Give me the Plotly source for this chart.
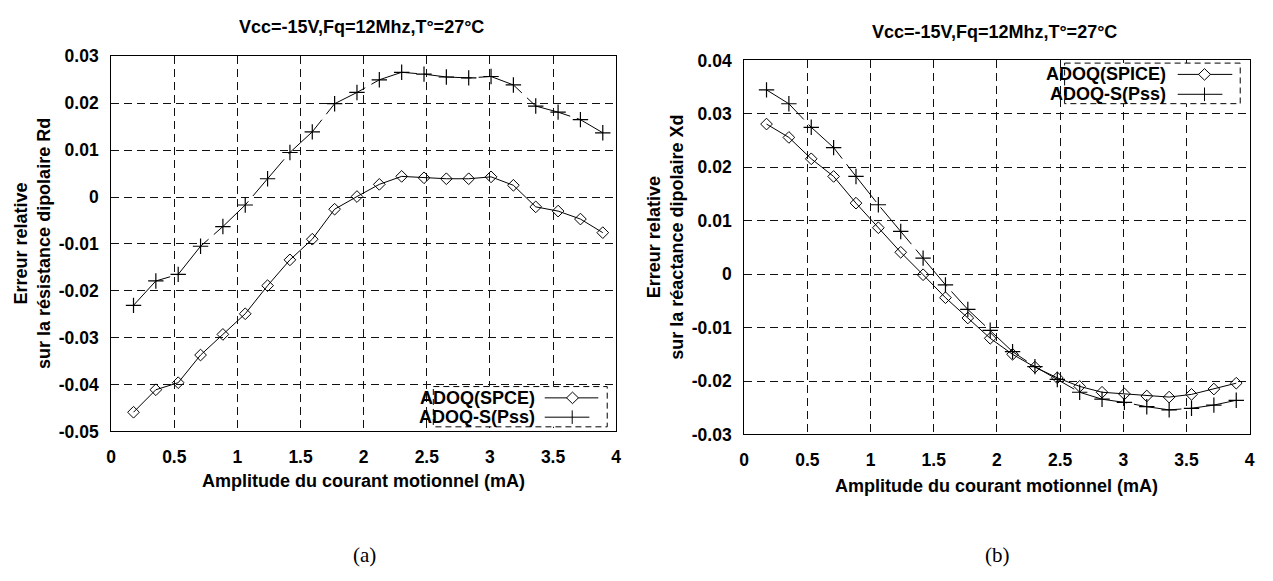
import plotly.graph_objects as go

W, H = 1273, 581

# Amplitude du courant motionnel (mA)
courant = [0.177, 0.354, 0.531, 0.708, 0.885, 1.062, 1.239, 1.416, 1.593, 1.77, 1.947,
           2.124, 2.301, 2.478, 2.655, 2.832, 3.009, 3.186, 3.363, 3.54, 3.717, 3.894]

# (a) erreur relative sur Rd
rd_spice = [-0.0459, -0.0411, -0.0396, -0.0337, -0.0293, -0.0249, -0.0189, -0.0134, -0.0090,
            -0.0026, 0.0001, 0.0027, 0.0044, 0.0041, 0.0039, 0.0039, 0.0043, 0.0025,
            -0.0021, -0.0030, -0.0047, -0.0076]
rd_pss = [-0.0231, -0.0179, -0.0165, -0.0105, -0.0063, -0.0017, 0.0039, 0.0095, 0.0139,
          0.0199, 0.0223, 0.0250, 0.0266, 0.0262, 0.0256, 0.0254, 0.0257, 0.0239,
          0.0194, 0.0181, 0.0165, 0.0137]

# (b) erreur relative sur Xd
xd_spice = [0.0281, 0.0256, 0.0216, 0.0183, 0.0133, 0.0087, 0.0041, -0.0001, -0.0044,
            -0.0082, -0.0120, -0.0150, -0.0174, -0.0194, -0.0210, -0.0221, -0.0224,
            -0.0228, -0.0230, -0.0225, -0.0215, -0.0204]
xd_pss = [0.0345, 0.0319, 0.0275, 0.0237, 0.0183, 0.0130, 0.0080, 0.0030, -0.0020,
          -0.0066, -0.0105, -0.0145, -0.0173, -0.0197, -0.0221, -0.0234, -0.0240,
          -0.0248, -0.0254, -0.0251, -0.0245, -0.0236]

x_ticks = [0, 0.5, 1, 1.5, 2, 2.5, 3, 3.5, 4]
x_text = ["0", "0.5", "1", "1.5", "2", "2.5", "3", "3.5", "4"]
rd_ticks = [-0.05, -0.04, -0.03, -0.02, -0.01, 0, 0.01, 0.02, 0.03]
rd_text = ["-0.05", "-0.04", "-0.03", "-0.02", "-0.01", "0", "0.01", "0.02", "0.03"]
xd_ticks = [-0.03, -0.02, -0.01, 0, 0.01, 0.02, 0.03, 0.04]
xd_text = ["-0.03", "-0.02", "-0.01", "0", "0.01", "0.02", "0.03", "0.04"]

titre = "Vcc=-15V,Fq=12Mhz,T°=27°C"
label_x = "Amplitude du courant motionnel (mA)"
FONT = "Liberation Sans, Arial, sans-serif"


def px(x):
    return x / W


def py(y):
    return 1 - y / H


fig = go.Figure()

line = dict(color="black", width=1)
dashed = dict(color="black", width=1, dash="48px,7px")
diamond = dict(symbol="diamond-open", size=9, color="black", line=dict(width=1, color="black"))
cross = dict(symbol="cross-thin-open", size=11, color="black", line=dict(width=1.2, color="black"))

fig.add_trace(go.Scatter(x=courant, y=rd_spice, mode="lines+markers", line=line, marker=diamond,
                         xaxis="x", yaxis="y", showlegend=False))
fig.add_trace(go.Scatter(x=courant, y=rd_pss, mode="lines+markers", line=dashed, marker=cross,
                         xaxis="x", yaxis="y", showlegend=False))
fig.add_trace(go.Scatter(x=courant, y=xd_spice, mode="lines+markers", line=line, marker=diamond,
                         xaxis="x2", yaxis="y2", showlegend=False))
fig.add_trace(go.Scatter(x=courant, y=xd_pss, mode="lines+markers", line=dashed, marker=cross,
                         xaxis="x2", yaxis="y2", showlegend=False))

tickfont = dict(family=FONT, size=17.5, color="black", weight="bold")
common = dict(showline=True, linecolor="black", linewidth=1, mirror=True,
              showgrid=True, gridcolor="#111", gridwidth=1, griddash="8px,5px",
              zeroline=False, ticks="", tickfont=tickfont)

fig.update_layout(
    width=W, height=H,
    margin=dict(l=0, r=0, t=0, b=0),
    paper_bgcolor="white", plot_bgcolor="white",
    xaxis=dict(domain=[px(107), px(616)], range=[0, 4], tickvals=x_ticks, ticktext=x_text,
               anchor="y", ticklabelstandoff=10, **common),
    yaxis=dict(domain=[py(436.5), py(48)], range=[-0.05, 0.03], tickvals=rd_ticks, ticktext=rd_text,
               anchor="x", ticklabelstandoff=8, **common),
    xaxis2=dict(domain=[px(745), px(1254.5)], range=[0, 4], tickvals=x_ticks, ticktext=x_text,
                anchor="y2", ticklabelstandoff=10, **common),
    yaxis2=dict(domain=[py(439.6), py(52.3)], range=[-0.03, 0.04], tickvals=xd_ticks, ticktext=xd_text,
                anchor="x2", ticklabelstandoff=8, **common),
)

bold = dict(family=FONT, size=18, color="black", weight="bold")


def note(text, x, y, xanchor="center", **kw):
    fig.add_annotation(text=text, x=px(x), y=py(y), xref="paper", yref="paper",
                       xanchor=xanchor, yanchor="middle", showarrow=False,
                       font=kw.pop("font", bold), **kw)


# titles
note(titre, 359.5, 18)
note(titre, 997, 22.7)
note(label_x, 361.7, 488)
note(label_x, 999, 493)
note("Erreur relative<br>sur la résistance dipolaire Rd", 27.5, 242, textangle=-90)
note("Erreur relative<br>sur la réactance dipolaire Xd", 666, 235, textangle=-90)
serif = dict(family="Liberation Serif, Times New Roman, serif", size=21, color="black")
note("(a)", 362, 564, font=serif)
note("(b)", 1000, 564, font=serif)


# hand-drawn legends (text left of the sample, as in the original)
def legend(box, rows):
    x0, y0, x1, y1 = box
    fig.add_shape(type="rect", xref="paper", yref="paper", x0=px(x0), y0=py(y0), x1=px(x1), y1=py(y1),
                  line=dict(color="black", width=1, dash="6px,4px"), fillcolor="white", layer="above")
    for label, ty, tx, lx0, lx1, mx, sym in rows:
        note(label, tx, ty, xanchor="right")
        fig.add_shape(type="line", xref="paper", yref="paper", x0=px(lx0), x1=px(lx1), y0=py(ty), y1=py(ty),
                      line=dict(color="black", width=1), layer="above")
        s = 6
        if sym == "diamond":
            path = (f"M {px(mx - s)} {py(ty)} L {px(mx)} {py(ty - s)} L {px(mx + s)} {py(ty)} "
                    f"L {px(mx)} {py(ty + s)} Z")
            fig.add_shape(type="path", xref="paper", yref="paper", path=path,
                          line=dict(color="black", width=1), fillcolor="white", layer="above")
        else:
            fig.add_shape(type="line", xref="paper", yref="paper", x0=px(mx), x1=px(mx),
                          y0=py(ty - s - 1), y1=py(ty + s + 1), line=dict(color="black", width=1), layer="above")


legend((431.7, 390, 607, 431.7),
       [("ADOQ(SPCE)", 401.7, 536, 544, 598, 572, "diamond"),
        ("ADOQ-S(Pss)", 421.7, 536, 544, 589, 571.7, "cross")])
legend((1068, 55, 1245, 97),
       [("ADOQ(SPICE)", 66.7, 1172, 1182, 1237, 1209, "diamond"),
        ("ADOQ-S(Pss)", 87.3, 1172, 1182, 1227, 1209, "cross")])

fig.write_html("out.html", config={"displayModeBar": False},
               post_script="document.body.style.margin='0';")
